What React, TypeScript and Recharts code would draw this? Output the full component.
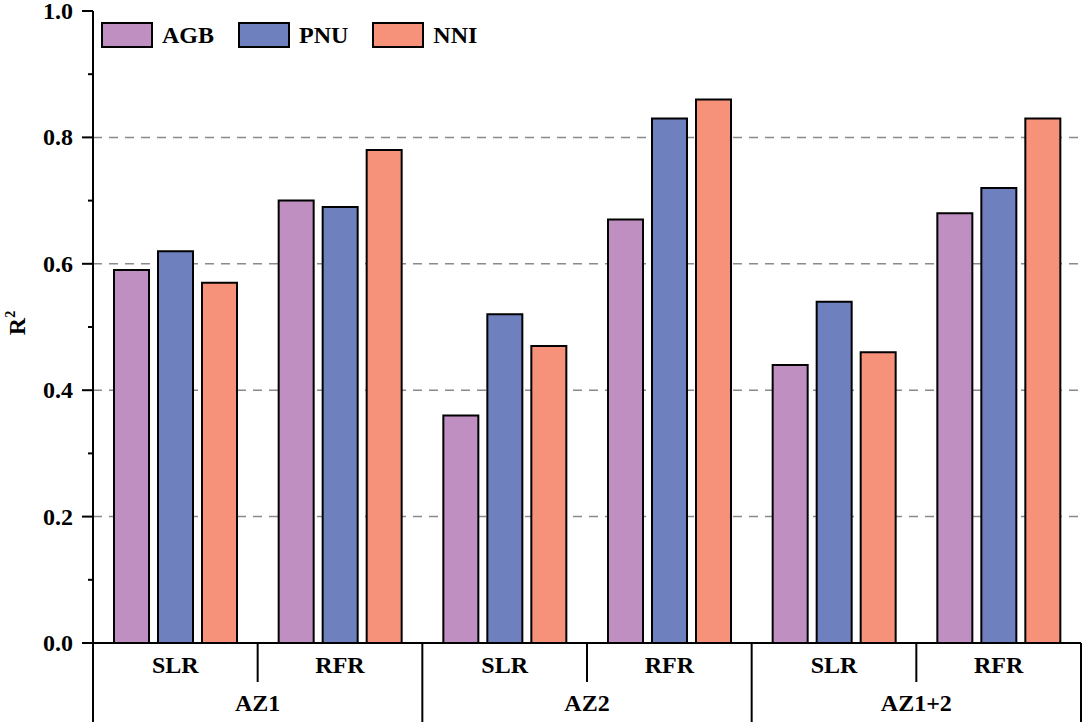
import React from 'react'
import { Bar, BarChart, CartesianGrid, Legend, XAxis, YAxis } from 'recharts'

const groups = ['AZ1', 'AZ2', 'AZ1+2']
const methods = ['SLR', 'RFR']
const seriesNames = ['AGB', 'PNU', 'NNI']
const seriesColors = ['#BF8FC1', '#6F80BF', '#F6917A']

const agbValues = [0.59, 0.7, 0.36, 0.67, 0.44, 0.68]
const pnuValues = [0.62, 0.69, 0.52, 0.83, 0.54, 0.72]
const nniValues = [0.57, 0.78, 0.47, 0.86, 0.46, 0.83]

const yTicks = [0, 0.1, 0.2, 0.3, 0.4, 0.5, 0.6, 0.7, 0.8, 0.9, 1.0]
const gridValues = [0.2, 0.4, 0.6, 0.8]

const data = groups.flatMap((group, g) =>
  methods.map((method, m) => {
    const i = g * methods.length + m
    return { key: `${group}-${method}`, group, method, AGB: agbValues[i], PNU: pnuValues[i], NNI: nniValues[i] }
  }),
)

const W = 1084
const H = 724
const Y_AXIS_W = 93
const RIGHT = 3
const PLOT_W = W - Y_AXIS_W - RIGHT
const BAND = PLOT_W / data.length
const FONT = "'Liberation Serif', 'Times New Roman', serif"

const YTick = (props: any) => {
  const { x, y, payload } = props
  const major = Math.round(payload.value * 10) % 2 === 0
  return (
    <g>
      <line x1={x - (major ? 11 : 5)} x2={x} y1={y} y2={y} stroke="#000" strokeWidth={2} />
      {major && (
        <text x={x - 20} y={y} dy={8} textAnchor="end" fontFamily={FONT} fontWeight={700} fontSize={24} fill="#000">
          {payload.value.toFixed(1)}
        </text>
      )}
    </g>
  )
}

const XTick = (props: any) => {
  const { x, y, index } = props
  const row = data[index]
  const full = index % 2 === 1
  const right = x + BAND / 2
  return (
    <g>
      {index === 0 && <line x1={x - BAND / 2} x2={x - BAND / 2} y1={y} y2={y + 79} stroke="#000" strokeWidth={2} />}
      <line x1={right} x2={right} y1={y} y2={y + (full ? 79 : 39)} stroke="#000" strokeWidth={2} />
      <text x={x} y={y + 30} textAnchor="middle" fontFamily={FONT} fontWeight={700} fontSize={24} fill="#000">
        {row.method}
      </text>
      {full && (
        <text x={x - BAND / 2} y={y + 68} textAnchor="middle" fontFamily={FONT} fontWeight={700} fontSize={24} fill="#000">
          {row.group}
        </text>
      )}
    </g>
  )
}

const YLabel = (props: any) => {
  const vb = props.viewBox || { y: 11, height: 632 }
  const cx = 25
  const cy = vb.y + vb.height / 2 - 4
  return (
    <text
      x={cx}
      y={cy}
      transform={`rotate(-90 ${cx} ${cy})`}
      textAnchor="middle"
      fontFamily={FONT}
      fontWeight={700}
      fontSize={24}
      fill="#000"
    >
      R
      <tspan fontSize={14} dy={-10}>
        2
      </tspan>
    </text>
  )
}

const LegendContent = (props: any) => {
  const items = [...(props.payload || [])].sort(
    (a: any, b: any) => seriesNames.indexOf(a.value) - seriesNames.indexOf(b.value),
  )
  return (
    <div style={{ display: 'flex', alignItems: 'center' }}>
      {items.map((item: any) => (
        <div key={item.value} style={{ display: 'flex', alignItems: 'center', marginRight: 24 }}>
          <span
            style={{
              display: 'inline-block',
              boxSizing: 'border-box',
              width: 52,
              height: 26,
              background: item.color,
              border: '2px solid #000',
            }}
          />
          <span style={{ marginLeft: 9, fontFamily: FONT, fontWeight: 700, fontSize: 24, color: '#000', lineHeight: '26px' }}>
            {item.value}
          </span>
        </div>
      ))}
    </div>
  )
}

const App = () => {
  return (
    <div style={{ position: 'absolute', left: 0, top: 0, width: W, height: H, background: '#fff' }}>
      <BarChart width={W} height={H} data={data} margin={{ top: 11, right: RIGHT, bottom: 0, left: 0 }} barGap={9}>
        <CartesianGrid vertical={false} horizontalValues={gridValues} stroke="#8a8a8a" strokeWidth={1.5} strokeDasharray="9 7" />
        <XAxis
          dataKey="key"
          interval={0}
          height={81}
          tickSize={0}
          tickMargin={0}
          tickLine={false}
          axisLine={{ stroke: '#000', strokeWidth: 2 }}
          tick={XTick}
        />
        <XAxis
          xAxisId="top"
          orientation="top"
          dataKey="key"
          height={0}
          tick={false}
          tickLine={false}
          axisLine={{ stroke: '#000', strokeWidth: 2 }}
        />
        <YAxis
          width={Y_AXIS_W}
          domain={[0, 1]}
          ticks={yTicks}
          interval={0}
          tickSize={0}
          tickMargin={0}
          tickLine={false}
          axisLine={{ stroke: '#000', strokeWidth: 2 }}
          tick={YTick}
          label={{ content: YLabel }}
        />
        <YAxis
          yAxisId="right"
          orientation="right"
          width={0}
          domain={[0, 1]}
          tick={false}
          tickLine={false}
          axisLine={{ stroke: '#000', strokeWidth: 2 }}
        />
        <Legend
          layout="horizontal"
          verticalAlign="middle"
          align="center"
          content={LegendContent}
          wrapperStyle={{ top: 22, left: 101, width: 'auto' }}
        />
        {seriesNames.map((name, i) => (
          <Bar
            key={name}
            dataKey={name}
            fill={seriesColors[i]}
            stroke="#000"
            strokeWidth={2}
            barSize={35}
            isAnimationActive={false}
          />
        ))}
      </BarChart>
    </div>
  )
}

export default App
